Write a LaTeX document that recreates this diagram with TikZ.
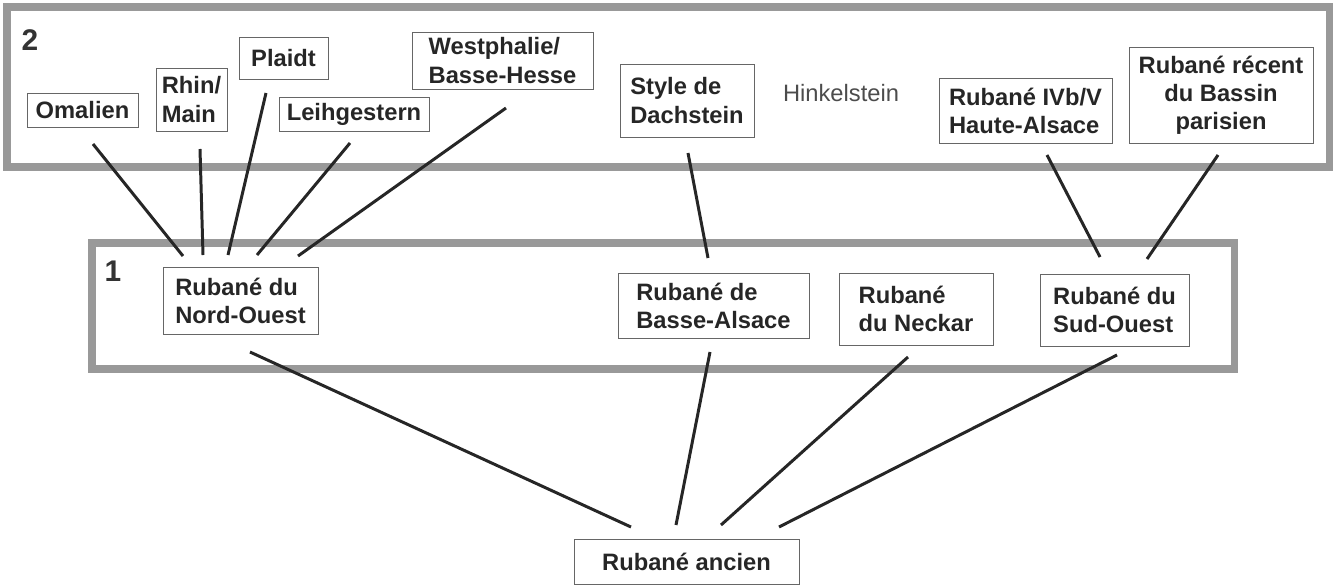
\documentclass[tikz,border=0pt]{standalone}
\usepackage{fontspec}
\setmainfont{Liberation Sans}

\begin{document}
\begin{tikzpicture}[x=0.02cm, y=-0.02cm,
        box/.style={draw=black!60, line width=0.5pt, inner sep=2pt, outer sep=0pt, align=left, text=black!85, font=\fontsize{13.5}{16}\selectfont\bfseries},
        frame/.style={draw=black!40, line width=4pt},
        link/.style={draw=black!85, line width=1.7pt},
        level/.style={font=\fontsize{17}{20}\selectfont\bfseries, text=black!80}]
        \useasboundingbox (0,0) rectangle (1341,585);

        % the two stages
        \draw[frame] (7,7) rectangle (1329,167);
        \draw[frame] (92,243) rectangle (1234,369);
        \node[level] (two) at (30,40) {2};
        \node[level] (one) at (113,271) {1};

        % stage 2
        \node[box, minimum width=2.22cm, minimum height=0.68cm] (omalien) at (82.5,110) {Omalien};
        \node[box, minimum width=1.42cm, minimum height=1.26cm] (rhinmain) at (191.5,99.5) {Rhin/\\Main};
        \node[box, minimum width=1.78cm, minimum height=0.84cm] (plaidt) at (283.5,58) {Plaidt};
        \node[box, minimum width=3.00cm, minimum height=0.68cm] (leihgestern) at (354,114) {Leihgestern};
        \node[box, minimum width=3.62cm, minimum height=1.14cm] (westphalie) at (502.5,60.5) {Westphalie/\\Basse-Hesse};
        \node[box, minimum width=2.68cm, minimum height=1.46cm] (dachstein) at (687,100.5) {Style de\\Dachstein};
        \node[font=\fontsize{13.5}{16}\selectfont, text=black!70] (hinkelstein) at (841,93) {Hinkelstein};
        \node[box, minimum width=3.46cm, minimum height=1.30cm] (hautealsace) at (1025.5,110.5) {Rubané IVb/V\\Haute-Alsace};
        \node[box, minimum width=3.68cm, minimum height=1.92cm, align=center] (bassin) at (1221,95) {Rubané récent\\du Bassin\\parisien};

        % stage 1
        \node[box, minimum width=3.10cm, minimum height=1.34cm] (nordouest) at (240.5,300.5) {Rubané du\\Nord-Ouest};
        \node[box, minimum width=3.82cm, minimum height=1.30cm] (bassealsace) at (713.5,305.5) {Rubané de\\Basse-Alsace};
        \node[box, minimum width=3.08cm, minimum height=1.44cm] (neckar) at (916,309) {Rubané\\du Neckar};
        \node[box, minimum width=2.98cm, minimum height=1.44cm] (sudouest) at (1114.5,310) {Rubané du\\Sud-Ouest};

        % root
        \node[box, minimum width=4.50cm, minimum height=0.90cm] (ancien) at (686.5,561.5) {Rubané ancien};

        \draw[link] ([shift={(10.5,17)}]omalien.south) -- ([shift={(-57.5,-11)}]nordouest.north);
        \draw[link] ([shift={(8.5,18)}]rhinmain.south) -- ([shift={(-37.5,-12)}]nordouest.north);
        \draw[link] ([shift={(-17.5,14)}]plaidt.south) -- ([shift={(-12.5,-12)}]nordouest.north);
        \draw[link] ([shift={(-4,12)}]leihgestern.south) -- ([shift={(16.5,-12)}]nordouest.north);
        \draw[link] ([shift={(3.5,19)}]westphalie.south) -- ([shift={(57.5,-11)}]nordouest.north);
        \draw[link] ([shift={(1,16)}]dachstein.south) -- ([shift={(-5.5,-15)}]bassealsace.north);
        \draw[link] ([shift={(21.5,12)}]hautealsace.south) -- ([shift={(-14.5,-17)}]sudouest.north);
        \draw[link] ([shift={(-3,12)}]bassin.south) -- ([shift={(32.5,-15)}]sudouest.north);

        \draw[link] ([shift={(9.5,18)}]nordouest.south) -- ([shift={(-55.5,-12)}]ancien.north);
        \draw[link] ([shift={(-3.5,14)}]bassealsace.south) -- ([shift={(-10.5,-14)}]ancien.north);
        \draw[link] ([shift={(-8,12)}]neckar.south) -- ([shift={(34.5,-14)}]ancien.north);
        \draw[link] ([shift={(2.5,9)}]sudouest.south) -- ([shift={(92.5,-12)}]ancien.north);
    \end{tikzpicture}
\end{document}
